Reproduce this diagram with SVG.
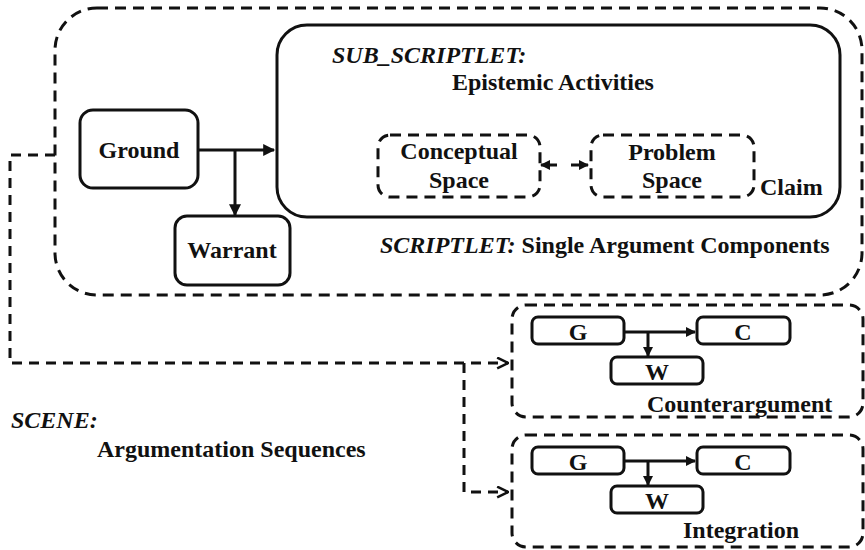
<svg xmlns="http://www.w3.org/2000/svg" width="865" height="550" viewBox="0 0 865 550">
<style>
.t{font-family:"Liberation Serif","Times New Roman",serif;font-weight:bold;font-size:24px;fill:#111}
.i{font-style:italic}
.m{text-anchor:middle}
.solid{fill:none;stroke:#111;stroke-width:3}
.dash{fill:none;stroke:#111;stroke-width:3;stroke-dasharray:11 7}
.line{fill:none;stroke:#111;stroke-width:3}
.sdash{fill:none;stroke:#111;stroke-width:3;stroke-dasharray:10 7}
</style>
<defs>
<marker id="tri" viewBox="0 0 10 10" refX="9" refY="5" markerWidth="13" markerHeight="12" markerUnits="userSpaceOnUse" orient="auto">
<path d="M0,0 L10,5 L0,10 z" fill="#111"/>
</marker>
<marker id="tris" viewBox="0 0 10 10" refX="9" refY="5" markerWidth="11" markerHeight="10" markerUnits="userSpaceOnUse" orient="auto">
<path d="M0,0 L10,5 L0,10 z" fill="#111"/>
</marker>
<marker id="chev" viewBox="0 0 12 12" refX="11" refY="6" markerWidth="13" markerHeight="13" markerUnits="userSpaceOnUse" orient="auto">
<path d="M1,1 L11,6 L1,11" fill="none" stroke="#111" stroke-width="2.3"/>
</marker>
</defs>

<g id="scriptlet">
<rect class="dash" x="55" y="8" width="807" height="287" rx="42"/>
<text class="t" x="380" y="253"><tspan class="i">SCRIPTLET:</tspan> Single Argument Components</text>
</g>

<g id="sub_scriptlet">
<rect class="solid" x="277" y="25" width="563" height="192" rx="30"/>
<text class="t i" x="332" y="63">SUB_SCRIPTLET:</text>
<text class="t" x="452" y="90">Epistemic Activities</text>
<text class="t" x="760" y="195">Claim</text>
</g>

<g id="conceptual">
<rect class="dash" x="378" y="135" width="162" height="62" rx="12"/>
<text class="t m" x="459" y="159">Conceptual</text>
<text class="t m" x="459" y="188">Space</text>
</g>

<g id="problem">
<rect class="dash" x="591" y="135" width="163" height="62" rx="12"/>
<text class="t m" x="672" y="160">Problem</text>
<text class="t m" x="672" y="188">Space</text>
</g>

<g id="ground">
<rect class="solid" x="80" y="110" width="118" height="78" rx="13"/>
<text class="t m" x="139" y="158">Ground</text>
</g>

<g id="warrant">
<rect class="solid" x="175" y="216" width="115" height="69" rx="12"/>
<text class="t m" x="232" y="258">Warrant</text>
</g>

<g id="counterargument">
<rect class="dash" x="512" y="305" width="351" height="112" rx="14"/>
<text class="t" x="647" y="412">Counterargument</text>
<g id="c_g"><rect class="solid" x="532" y="317" width="92" height="27" rx="6"/><text class="t m" x="578" y="340">G</text></g>
<g id="c_c"><rect class="solid" x="697" y="317" width="93" height="27" rx="6"/><text class="t m" x="743" y="340">C</text></g>
<g id="c_w"><rect class="solid" x="611" y="357" width="92" height="27" rx="6"/><text class="t m" x="657" y="380">W</text></g>
</g>

<g id="integration">
<rect class="dash" x="512" y="435" width="351" height="112" rx="14"/>
<text class="t" x="683" y="538">Integration</text>
<g id="i_g"><rect class="solid" x="532" y="447" width="92" height="27" rx="6"/><text class="t m" x="578" y="470">G</text></g>
<g id="i_c"><rect class="solid" x="697" y="447" width="93" height="27" rx="6"/><text class="t m" x="743" y="470">C</text></g>
<g id="i_w"><rect class="solid" x="611" y="486" width="92" height="27" rx="6"/><text class="t m" x="657" y="509">W</text></g>
</g>

<g id="scene">
<text class="t i" x="11" y="428">SCENE:</text>
<text class="t" x="97" y="457">Argumentation Sequences</text>
</g>

<g id="connectors">
<path class="line" d="M198,150 H274" marker-end="url(#tri)"/>
<path class="line" d="M235,150 V215" marker-end="url(#tri)"/>
<path class="line" d="M557,165 H541" marker-end="url(#tris)"/>
<path class="line" d="M571,165 H588" marker-end="url(#tris)"/>
<path class="line" d="M624,332 H695" marker-end="url(#tris)"/>
<path class="line" d="M648,332 V356" marker-end="url(#tris)"/>
<path class="line" d="M624,461 H695" marker-end="url(#tris)"/>
<path class="line" d="M648,461 V485" marker-end="url(#tris)"/>
<path class="sdash" d="M55,155 H10 V363 H508" marker-end="url(#chev)"/>
<path class="sdash" d="M464,363 V492 H508" marker-end="url(#chev)"/>
</g>
</svg>
